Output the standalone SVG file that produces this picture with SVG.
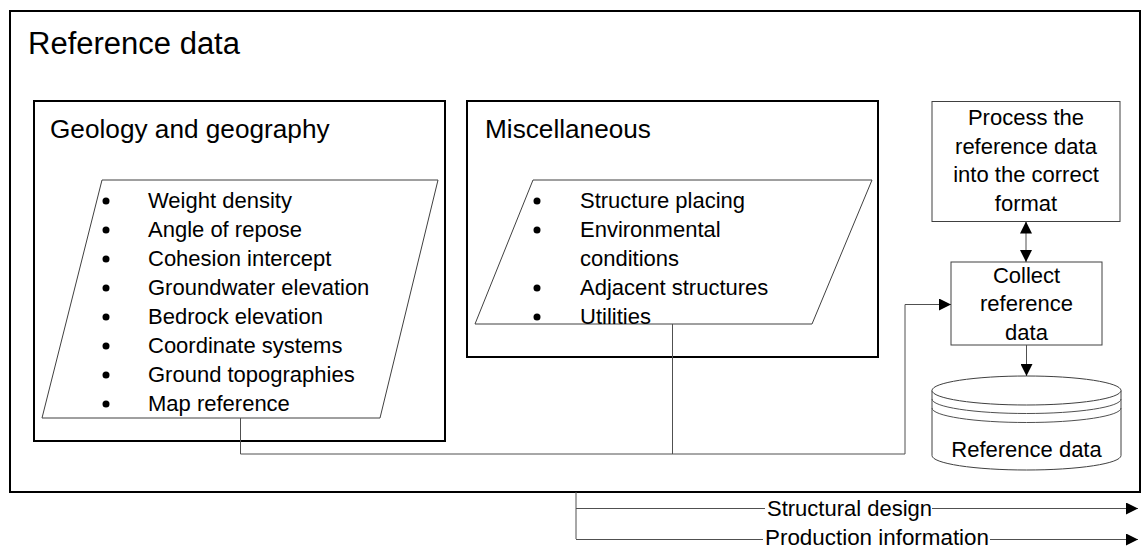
<svg xmlns="http://www.w3.org/2000/svg" width="1142" height="548" viewBox="0 0 1142 548">
  <style>
    text { font-family: "Liberation Sans", Arial, sans-serif; fill: #000; }
    .frame { fill: #fff; stroke: #000; stroke-width: 2; }
    .thin { fill: #fff; stroke: #404040; stroke-width: 1; }
    .wire { fill: none; stroke: #505050; stroke-width: 1; }
    .item { font-size: 22px; }
    .head { font-size: 26.2px; }
    .label { font-size: 22px; text-anchor: middle; }
    .flow { font-size: 22px; }
  </style>
  <defs>
    <marker id="arrow" viewBox="0 0 12 12" refX="12" refY="6" markerWidth="12" markerHeight="12" markerUnits="userSpaceOnUse" orient="auto-start-reverse">
      <path d="M0,0 L12,6 L0,12 z" fill="#000"/>
    </marker>
  </defs>

  <rect width="1142" height="548" fill="#fff"/>

  <!-- outer container -->
  <g id="reference-data-frame">
    <rect class="frame" x="10" y="11" width="1130" height="481"/>
    <text x="28" y="54" style="font-size:31px">Reference data</text>
  </g>

  <!-- geology and geography -->
  <g id="geology">
    <rect class="frame" x="34" y="101" width="411" height="340"/>
    <text class="head" x="50" y="138">Geology and geography</text>
    <polygon class="thin" points="102,180 438,180 380,418 42,418"/>
    <g fill="#000">
      <circle cx="106" cy="201" r="3.5"/>
      <circle cx="106" cy="230" r="3.5"/>
      <circle cx="106" cy="259" r="3.5"/>
      <circle cx="106" cy="288" r="3.5"/>
      <circle cx="106" cy="317" r="3.5"/>
      <circle cx="106" cy="346" r="3.5"/>
      <circle cx="106" cy="375" r="3.5"/>
      <circle cx="106" cy="404" r="3.5"/>
    </g>
    <text class="item" x="148" y="208">Weight density</text>
    <text class="item" x="148" y="237">Angle of repose</text>
    <text class="item" x="148" y="266">Cohesion intercept</text>
    <text class="item" x="148" y="295">Groundwater elevation</text>
    <text class="item" x="148" y="324">Bedrock elevation</text>
    <text class="item" x="148" y="353">Coordinate systems</text>
    <text class="item" x="148" y="382">Ground topographies</text>
    <text class="item" x="148" y="411">Map reference</text>
  </g>

  <!-- miscellaneous -->
  <g id="miscellaneous">
    <rect class="frame" x="467" y="101" width="411" height="256"/>
    <text class="head" x="485" y="138">Miscellaneous</text>
    <polygon class="thin" points="533,180 872,180 812,324 475,324"/>
    <g fill="#000">
      <circle cx="537" cy="201" r="3.5"/>
      <circle cx="537" cy="230" r="3.5"/>
      <circle cx="537" cy="288" r="3.5"/>
      <circle cx="537" cy="317" r="3.5"/>
    </g>
    <text class="item" x="580" y="208">Structure placing</text>
    <text class="item" x="580" y="237">Environmental</text>
    <text class="item" x="580" y="266">conditions</text>
    <text class="item" x="580" y="295">Adjacent structures</text>
    <text class="item" x="580" y="324">Utilities</text>
  </g>

  <!-- process step -->
  <g id="process">
    <rect class="thin" x="932" y="101.5" width="188" height="120"/>
    <text class="label" x="1026" y="125">Process the</text>
    <text class="label" x="1026" y="153.5">reference data</text>
    <text class="label" x="1026" y="182">into the correct</text>
    <text class="label" x="1026" y="210.5">format</text>
  </g>

  <!-- collect step -->
  <g id="collect">
    <rect class="thin" x="951" y="262" width="151" height="83"/>
    <text class="label" x="1026.5" y="282.5">Collect</text>
    <text class="label" x="1026.5" y="311">reference</text>
    <text class="label" x="1026.5" y="339.5">data</text>
  </g>

  <!-- data store -->
  <g id="datastore">
    <path class="thin" d="M932,390.5 L932,455.5 A94.5,14.5 0 0 0 1121,455.5 L1121,390.5"/>
    <ellipse class="thin" cx="1026.5" cy="390.5" rx="94.5" ry="14.5"/>
    <path class="wire" d="M932,399 A94.5,14.5 0 0 0 1121,399"/>
    <path class="wire" d="M932,408 A94.5,14.5 0 0 0 1121,408"/>
    <text class="label" x="1026.5" y="457">Reference data</text>
  </g>

  <!-- connectors -->
  <g id="connectors">
    <path class="wire" d="M240.5,418 L240.5,454 L905,454 L905,304.5 L951,304.5" marker-end="url(#arrow)"/>
    <path class="wire" d="M672.5,324 L672.5,454"/>
    <path class="wire" d="M1026,221.5 L1026,262" marker-start="url(#arrow)" marker-end="url(#arrow)"/>
    <path class="wire" d="M1026.5,345 L1026.5,376" marker-end="url(#arrow)"/>
    <path class="wire" d="M576,492 L576,539"/>
    <path class="wire" d="M576,508.5 L765,508.5"/>
    <path class="wire" d="M932,508.5 L1138,508.5" marker-end="url(#arrow)"/>
    <path class="wire" d="M576,539.5 L763,539.5"/>
    <path class="wire" d="M990,539.5 L1138,539.5" marker-end="url(#arrow)"/>
  </g>

  <g id="outputs">
    <text class="flow" x="767" y="515.5">Structural design</text>
    <text class="flow" x="765" y="544.5" textLength="224" lengthAdjust="spacingAndGlyphs">Production information</text>
  </g>
</svg>
